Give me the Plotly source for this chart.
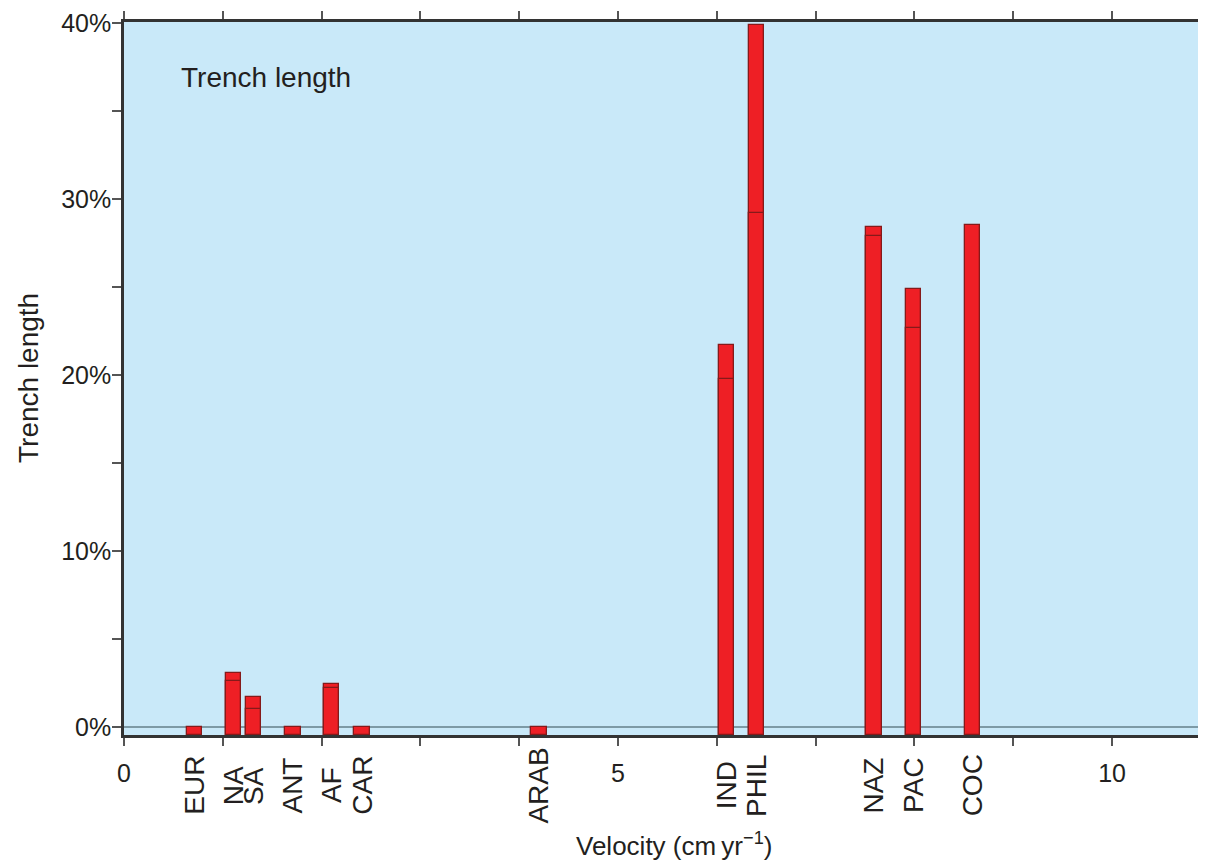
import plotly.graph_objects as go

# ---- data ----
plates = ["EUR", "NA", "SA", "ANT", "AF", "CAR", "ARAB", "IND", "PHIL", "NAZ", "PAC", "COC"]
velocity = [0.71, 1.11, 1.31, 1.71, 2.10, 2.41, 4.20, 6.10, 6.40, 7.59, 7.99, 8.59]
trench_total = [0.0, 3.1, 1.7, 0.0, 2.45, 0.0, 0.0, 21.7, 39.9, 28.4, 24.9, 28.5]
trench_lower = [None, 2.6, 1.05, None, 2.2, None, None, 19.8, 29.2, 27.9, 22.7, None]

x_tick_vals = list(range(0, 11))
x_tick_text = ["0", "", "", "", "", "5", "", "", "", "", "10"]
y_tick_vals = [0, 5, 10, 15, 20, 25, 30, 35, 40]
y_tick_text = ["0%", "", "10%", "", "20%", "", "30%", "", "40%"]

# ---- style ----
Y_MIN, Y_MAX = -0.45, 40.06
X_MIN, X_MAX = 0.0, 10.94
FONT = "Liberation Sans, Arial, Helvetica, sans-serif"
TXT = "#231f20"
FILL = "#ee1f25"
EDGE = "#851a1a"
BG = "#c9e9f9"
BAR_W = 0.155

# page body adds an 8px offset; figure is sized so the plot lands where the reference has it
OFF = 8
PL, PT, PR, PB = 124, 16, 1205, 735  # plot area in window pixels
W, H = 1206 - OFF, 867 - OFF
PW, PH = PR - PL, PB - PT


def px_x(px):
    return (px - PL) / PW


def px_y(py):
    return (PB - py) / PH


fig = go.Figure()

fig.add_trace(go.Bar(
    x=velocity,
    y=[v - Y_MIN for v in trench_total],
    base=Y_MIN,
    width=BAR_W,
    marker=dict(color=FILL, line=dict(color=EDGE, width=1.3)),
    showlegend=False,
    hoverinfo="skip",
))

lx = [v for v, l in zip(velocity, trench_lower) if l is not None]
ly = [l - Y_MIN for l in trench_lower if l is not None]
fig.add_trace(go.Bar(
    x=lx,
    y=ly,
    base=Y_MIN,
    width=BAR_W,
    marker=dict(color=FILL, line=dict(color=EDGE, width=1.3)),
    showlegend=False,
    hoverinfo="skip",
))

# category labels under the axis
for name, v in zip(plates, velocity):
    fig.add_annotation(
        x=v, xref="x", y=px_y(786), yref="paper",
        text=name, textangle=-90, showarrow=False,
        xanchor="center", yanchor="middle",
        font=dict(family=FONT, size=28, color=TXT),
    )

# in-plot label
fig.add_annotation(
    x=px_x(179), xref="paper", y=px_y(72), yref="paper",
    text="Trench length", showarrow=False, xanchor="left", yanchor="middle",
    font=dict(family=FONT, size=28, color=TXT),
)
# y-axis title
fig.add_annotation(
    x=px_x(28), xref="paper", y=px_y(375), yref="paper",
    text="Trench length", textangle=-90, showarrow=False,
    xanchor="center", yanchor="middle",
    font=dict(family=FONT, size=28, color=TXT),
)
# x-axis title
fig.add_annotation(
    x=px_x(674), xref="paper", y=px_y(845), yref="paper",
    text="Velocity (cm\u2009yr<sup>\u22121</sup>)", showarrow=False,
    xanchor="center", yanchor="middle",
    font=dict(family=FONT, size=26, color=TXT),
)

fig.update_layout(
    width=W, height=H,
    margin=dict(l=PL - OFF, r=1206 - PR, t=PT - OFF, b=867 - PB, pad=0),
    paper_bgcolor="white",
    plot_bgcolor=BG,
    barmode="overlay",
    bargap=0,
    font=dict(family=FONT, size=25, color=TXT),
    xaxis=dict(
        range=[X_MIN, X_MAX],
        tickmode="array", tickvals=x_tick_vals, ticktext=x_tick_text,
        ticks="outside", ticklen=8, tickwidth=1.5, tickcolor="#555555",
        showline=True, linecolor="#333333", linewidth=2.5,
        mirror="ticks", showgrid=False, zeroline=False,
        tickfont=dict(family=FONT, size=25, color=TXT),
        ticklabelstandoff=6,
        ticklabeloverflow="allow",
    ),
    yaxis=dict(
        range=[Y_MIN, Y_MAX],
        tickmode="array", tickvals=y_tick_vals, ticktext=y_tick_text,
        ticks="outside", ticklen=9, tickwidth=1.5, tickcolor="#555555",
        showline=True, linecolor="#333333", linewidth=2.5,
        mirror=False, showgrid=False,
        zeroline=True, zerolinecolor="#7d9aa6", zerolinewidth=1.5,
        tickfont=dict(family=FONT, size=25, color=TXT),
        ticklabelstandoff=-4,
        ticklabeloverflow="allow",
    ),
)

fig.write_html("out.html")
